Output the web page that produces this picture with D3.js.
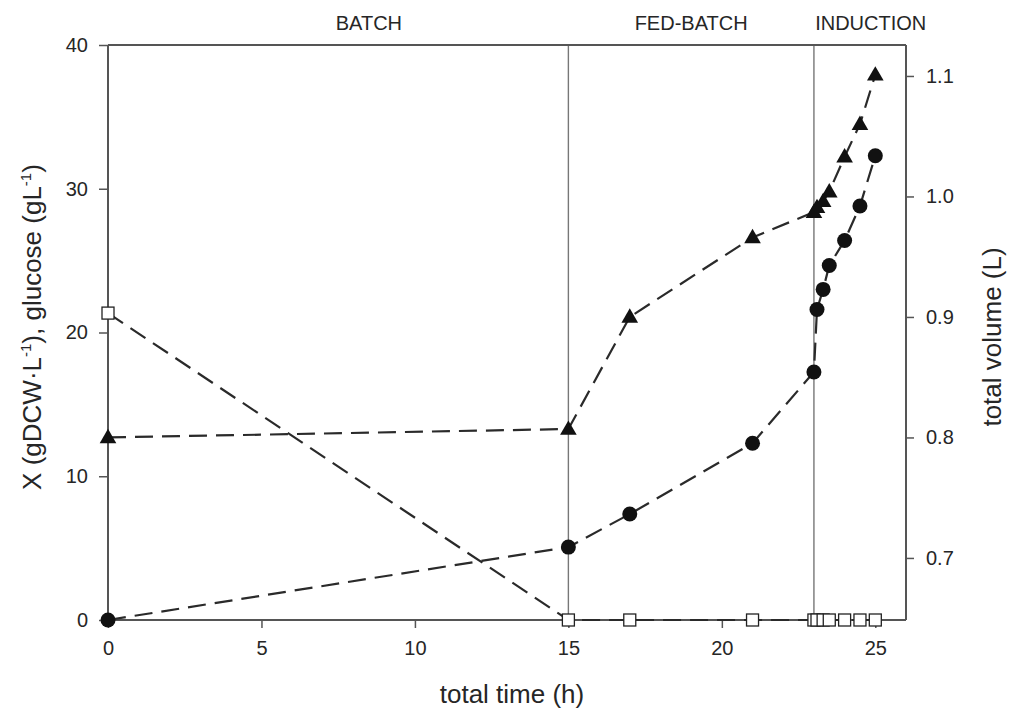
<!DOCTYPE html>
<html>
<head>
<meta charset="utf-8">
<script src="https://cdn.jsdelivr.net/npm/d3@7"></script>
<style>
  html, body { margin: 0; padding: 0; background: #fff; }
  svg { display: block; }
  text { font-family: "Liberation Sans", Arial, sans-serif; fill: #262626; }
</style>
</head>
<body>
<svg id="chart" width="1010" height="715"></svg>
<script>
// Sampling times (h)
const time = [0, 15, 17, 21, 23, 23.1, 23.3, 23.5, 24, 24.5, 25];
// Biomass X (gDCW/L) — left axis
const biomass = [0, 5.07, 7.37, 12.3, 17.25, 21.6, 23.0, 24.66, 26.4, 28.8, 32.3];
// Glucose (g/L) — left axis
const glucose = [21.35, 0, 0, 0, 0, 0, 0, 0, 0, 0, 0];
// Total reactor volume (L) — right axis
const volume = [0.80, 0.807, 0.90, 0.966, 0.987, 0.991, 0.996, 1.004, 1.033, 1.060, 1.101];

// Phase boundaries and labels
const phaseBounds = [15, 23];
const phaseNames = ["BATCH", "FED-BATCH", "INDUCTION"];
const phaseLabelX = [8.5, 19.0, 24.85];

const xTicks = [0, 5, 10, 15, 20, 25];
const yTicks = [0, 10, 20, 30, 40];
const vTicks = [0.7, 0.8, 0.9, 1.0, 1.1];

const svg = d3.select("#chart");
const m = { left: 108, right: 906, top: 45, bottom: 620 };

const x = d3.scaleLinear().domain([0, 26]).range([m.left, m.right]);
const y = d3.scaleLinear().domain([0, 40]).range([m.bottom, m.top]);
const yv = d3.scaleLinear().domain([0.6485, 1.1257]).range([m.bottom, m.top]);

const axisColor = "#555";
const tickFont = "20px";
const titleFont = "26px";

// Phase separators
svg.selectAll("line.phase").data(phaseBounds).join("line")
  .attr("class", "phase")
  .attr("x1", d => x(d)).attr("x2", d => x(d))
  .attr("y1", m.top).attr("y2", m.bottom)
  .attr("stroke", "#777").attr("stroke-width", 1.4);

// Frame top edge
svg.append("line").attr("x1", m.left).attr("x2", m.right).attr("y1", m.top).attr("y2", m.top)
  .attr("stroke", axisColor).attr("stroke-width", 2);

// Axes
const gx = svg.append("g").attr("transform", `translate(0,${m.bottom})`)
  .call(d3.axisBottom(x).tickValues(xTicks).tickSize(8).tickPadding(13).tickSizeOuter(0));
const gy = svg.append("g").attr("transform", `translate(${m.left},0)`)
  .call(d3.axisLeft(y).tickValues(yTicks).tickSize(9).tickPadding(11).tickSizeOuter(0));
const gv = svg.append("g").attr("transform", `translate(${m.right},0)`)
  .call(d3.axisRight(yv).tickValues(vTicks).tickFormat(d3.format(".1f")).tickSize(8).tickPadding(12).tickSizeOuter(0));

[gx, gy, gv].forEach(g => {
  g.select(".domain").attr("stroke", axisColor).attr("stroke-width", 2);
  g.selectAll(".tick line").attr("stroke", axisColor).attr("stroke-width", 1.5);
  g.selectAll(".tick text").attr("fill", "#262626").style("font-size", tickFont)
    .style("font-family", "'Liberation Sans', Arial, sans-serif");
});
gx.select(".domain").attr("d", `M${m.left},0H${m.right}`);
gy.select(".domain").attr("d", `M0,${m.top}V${m.bottom}`);
gv.select(".domain").attr("d", `M0,${m.top}V${m.bottom}`);

// Series lines
const dash = "18,9";
const lineX = d3.line().x((d, i) => x(time[i])).y(d => y(d));
const lineV = d3.line().x((d, i) => x(time[i])).y(d => yv(d));

[[glucose, lineX], [biomass, lineX], [volume, lineV]].forEach(([data, gen]) => {
  svg.append("path").datum(data).attr("d", gen)
    .attr("fill", "none").attr("stroke", "#2a2a2a").attr("stroke-width", 2.2)
    .attr("stroke-dasharray", dash);
});

// Markers
svg.selectAll("rect.glc").data(glucose).join("rect")
  .attr("class", "glc")
  .attr("x", (d, i) => x(time[i]) - 6).attr("y", d => y(d) - 6)
  .attr("width", 12).attr("height", 12)
  .attr("fill", "#fff").attr("stroke", "#222").attr("stroke-width", 1.3);

svg.selectAll("circle.bio").data(biomass).join("circle")
  .attr("class", "bio")
  .attr("cx", (d, i) => x(time[i])).attr("cy", d => y(d)).attr("r", 7.5)
  .attr("fill", "#111");

const tri = d3.symbol().type(d3.symbolTriangle).size(120);
svg.selectAll("path.vol").data(volume).join("path")
  .attr("class", "vol")
  .attr("transform", (d, i) => `translate(${x(time[i])},${yv(d) + 1})`)
  .attr("d", tri)
  .attr("fill", "#111");

// Phase labels
svg.selectAll("text.phase").data(phaseNames).join("text")
  .attr("class", "phase")
  .attr("x", (d, i) => x(phaseLabelX[i])).attr("y", 30)
  .attr("text-anchor", "middle")
  .style("font-size", "20px")
  .text(d => d);

// Axis titles
svg.append("text")
  .attr("x", 512).attr("y", 703)
  .attr("text-anchor", "middle")
  .style("font-size", titleFont)
  .text("total time (h)");

const ylab = svg.append("text")
  .attr("transform", "translate(41,327) rotate(-90)")
  .attr("text-anchor", "middle")
  .style("font-size", titleFont);
ylab.append("tspan").text("X (gDCW\u00B7L");
ylab.append("tspan").attr("dy", -10).style("font-size", "15px").text("-1");
ylab.append("tspan").attr("dy", 10).text("), glucose (gL");
ylab.append("tspan").attr("dy", -10).style("font-size", "15px").text("-1");
ylab.append("tspan").attr("dy", 10).text(")");

svg.append("text")
  .attr("transform", "translate(1001,337) rotate(-90)")
  .attr("text-anchor", "middle")
  .style("font-size", titleFont)
  .text("total volume (L)");
</script>
</body>
</html>
